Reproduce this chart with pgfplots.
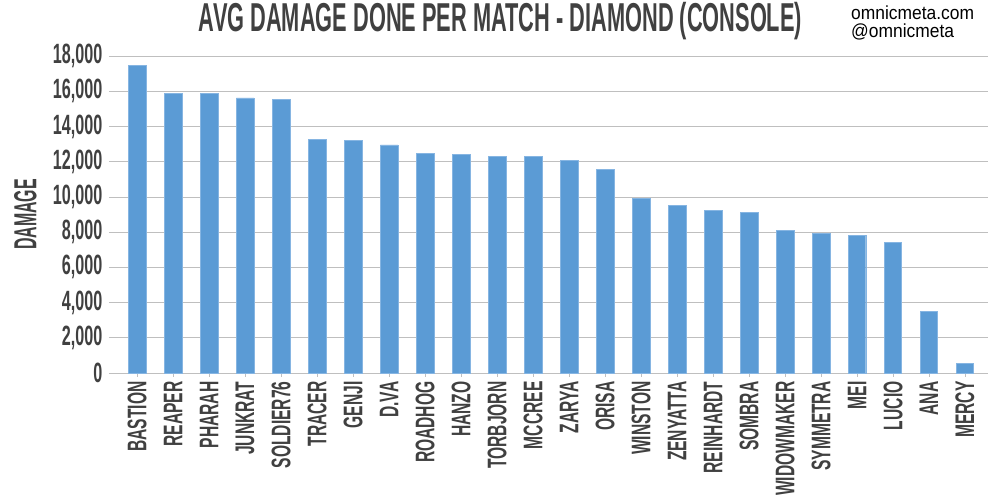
\documentclass[border=0pt]{standalone}
\usepackage{pgfplots}
\pgfplotsset{compat=1.18}
\usepackage{fontspec}
\setmainfont{Liberation Sans}
\newfontfamily\noodle[FakeStretch=0.58]{Liberation Sans}
\newfontfamily\noodlet[FakeStretch=0.54]{Liberation Sans}
\newfontfamily\noodley[FakeStretch=0.5]{Liberation Sans}
\newfontfamily\narrow[FakeStretch=0.92]{Liberation Sans}
\definecolor{barblue}{HTML}{5B9BD5}
\definecolor{baredge}{HTML}{86B5E2}
\definecolor{txt}{HTML}{404040}
\definecolor{gridc}{HTML}{BFBFBF}
\pgfplotstableread{
x name val
0 BASTION 17470
1 REAPER 15890
2 PHARAH 15870
3 JUNKRAT 15620
4 SOLDIER76 15550
5 TRACER 13250
6 GENJI 13210
7 D.VA 12960
8 ROADHOG 12450
9 HANZO 12410
10 TORBJORN 12300
11 MCCREE 12280
12 ZARYA 12070
13 ORISA 11560
14 WINSTON 9900
15 ZENYATTA 9520
16 REINHARDT 9240
17 SOMBRA 9100
18 WIDOWMAKER 8080
19 SYMMETRA 7930
20 MEI 7810
21 LUCIO 7410
22 ANA 3500
23 MERCY 550
}\datatable
\begin{document}
\begin{tikzpicture}[x=1bp,y=1bp]
\path[use as bounding box] (-113,-127) rectangle (887,373);
\begin{axis}[
  at={(0,0)}, anchor=south west,
  scale only axis, width=875bp, height=317bp,
  xmin=-0.67, xmax=23.64, ymin=0, ymax=18000,
  axis x line*=bottom, axis y line*=left,
  x axis line style={draw=gridc, line width=0.75pt},
  y axis line style={draw=none},
  ymajorgrids, grid style={draw=gridc, line width=0.75pt},
  xtick=data,
  xticklabels from table={\datatable}{name},
  ytick={0,2000,...,18000},
  tick align=outside,
  major tick length=4bp,
  tick style={draw=gridc, line width=0.6pt},
  /pgf/number format/assume math mode=true,
  /pgf/number format/1000 sep={,},
  scaled y ticks=false,
  yticklabel style={font=\noodle\bfseries\fontsize{28}{30}\selectfont, text=txt, xshift=-3bp},
  xticklabel style={font=\noodle\bfseries\fontsize{27}{29}\selectfont, text=txt, rotate=90, anchor=east, yshift=0bp, xshift=-1bp},
  ylabel={DAMAGE},
  every axis y label/.style={at={(-87.5bp,158.5bp)}, rotate=90, anchor=center, font=\noodley\bfseries\fontsize{32}{34}\selectfont, text=txt},
  clip=false,
]
\addplot[ybar, bar width=17.5bp, fill=barblue, draw=baredge, line width=0.5pt] table[x=x, y=val] {\datatable};
\end{axis}
\node[font=\noodlet\bfseries\fontsize{40.5}{42}\selectfont, text=txt, anchor=base] at (387.5,341) {AVG DAMAGE DONE PER MATCH - DIAMOND (CONSOLE)};
\node[font=\narrow\fontsize{19}{19}\selectfont, anchor=base west, inner sep=0pt] at (738,353) {omnicmeta.com};
\node[font=\narrow\fontsize{19}{19}\selectfont, anchor=base west, inner sep=0pt] at (738,335) {@omnicmeta};
\end{tikzpicture}
\end{document}
